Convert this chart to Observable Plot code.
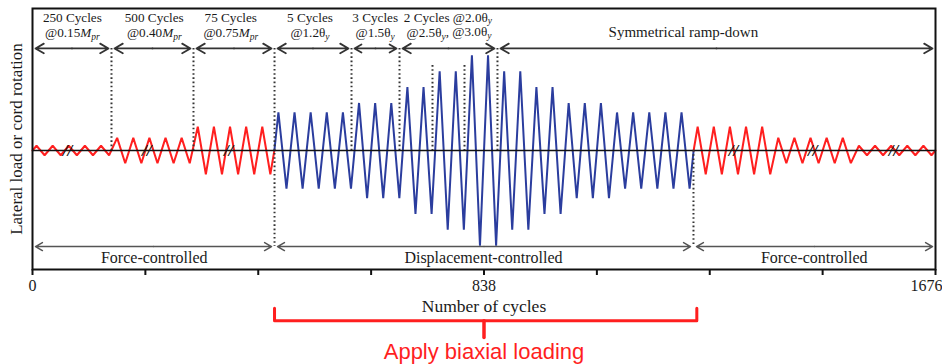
<!DOCTYPE html>
<html><head><meta charset="utf-8">
<script src="https://cdn.jsdelivr.net/npm/d3@7"></script>
<script src="https://cdn.jsdelivr.net/npm/@observablehq/plot@0.6"></script>
<style>
body{margin:0;background:#fff;}
#chart svg g[aria-label="x-axis tick"] path, #chart svg g[aria-label="x-axis"] line {stroke-width:2px;stroke:#111;}
</style></head><body><div id="chart"></div>
<script>
// ---- x axis ----
const xTicks = [0, 209.5, 419, 628.5, 838, 1047.5, 1257, 1466.5, 1676];
const xTickLabels = ["0", "838", "1676"];
const xTickLabelX = [0, 838, 1676];

// ---- schematic loading protocol (drawn cycles per stage, amplitude, control mode) ----
const stageCycles = [5, 5, 5, 5, 3, 2, 2, 2, 2, 2, 3, 5, 5, 5, 5];
const stageAmps   = [0.15, 0.40, 0.75, 1.2, 1.5, 2.0, 2.5, 3.0, 2.5, 2.0, 1.5, 1.2, 0.75, 0.40, 0.15];
const stageMode   = ["force1", "force1", "force1", "disp", "disp", "disp", "disp", "disp", "disp", "disp", "disp", "disp", "force2", "force2", "force2"];
const modeColors  = {force1: "#ff1f1f", disp: "#2b3d9e", force2: "#ff1f1f"};

// ---- break marks on the force-controlled stages ----
const breakX = [65, 212, 364, 1301, 1448, 1598];

// ---- stage boundaries (dotted lines) ----
const dottedX      = [146.6, 298.8, 449.2, 592.1, 681.2, 742.4, 801.8, 863.0, 1226.8];
const dottedTop    = [3.22, 3.22, 3.22, 3.22, 3.22, 2.68, 2.68, 3.22, 0];
const dottedBottom = [0, 0, -3.03, 0, 0, 0, 0, 0, -3.03];

// ---- arrows ----
const topArrowBounds = [0, 146.6, 298.8, 449.2, 592.1, 681.2, 863.0, 1676];
const bottomArrowBounds = [0, 449.2, 1226.8, 1676];

// ---- labels ----
const topRow1 = ["250 Cycles", "500 Cycles", "75 Cycles", "5 Cycles", "3 Cycles", "2 Cycles @2.0θ_y"];
const topRow1X = [74, 226, 368, 515, 636, 771];
const topRow2 = ["@0.15M_pr", "@0.40M_pr", "@0.75M_pr", "@1.2θ_y", "@1.5θ_y", "@2.5θ_y, @3.0θ_y"];
const topRow2X = [74, 226, 368, 515, 636, 773];
const rampLabel = ["Symmetrical ramp-down"];
const rampLabelX = [1208];
const bottomLabels = ["Force-controlled", "Displacement-controlled", "Force-controlled"];
const bottomLabelsX = [226, 837, 1451];

// ---- biaxial loading bracket ----
const bracketX = [449.2, 449.2, 1233, 1233];
const bracketY = [-4.98, -5.37, -5.37, -4.98];
const stemX = [838, 838];
const stemY = [-5.37, -5.9];

// ---- build the triangle wave from the stages ----
const totalCycles = d3.sum(stageCycles);
const W = 1676 / totalCycles;
const wave = [];
let c = 0;
stageCycles.forEach((n, s) => {
  const mode = stageMode[s], a = stageAmps[s];
  if (s === 0 || stageMode[s - 1] !== mode) wave.push({x: c * W, y: 0, mode});
  for (let k = 0; k < n; k++, c++) {
    wave.push({x: (c + 0.25) * W, y: a, mode});
    wave.push({x: (c + 0.75) * W, y: -a, mode});
  }
  if (s === stageCycles.length - 1 || stageMode[s + 1] !== mode) wave.push({x: c * W, y: 0, mode});
});

const dotted = dottedX.map((x, i) => ({x, y1: dottedTop[i], y2: dottedBottom[i]}));
function halves(bounds, y) {
  const out = [];
  for (let i = 0; i < bounds.length - 1; i++) {
    const m = (bounds[i] + bounds[i + 1]) / 2;
    out.push({x1: m, x2: bounds[i], y});
    out.push({x1: m, x2: bounds[i + 1], y});
  }
  return out;
}
const topArrows = halves(topArrowBounds, 3.22);
const bottomArrows = halves(bottomArrowBounds, -3.03);
const bracket = bracketX.map((x, i) => ({x, y: bracketY[i]}));
const stem = stemX.map((x, i) => ({x, y: stemY[i]}));

const serif = "'Liberation Serif', 'Times New Roman', serif";
const ink = "#1a1a1a";

const svg = Plot.plot({
  width: 942,
  height: 364,
  marginLeft: 32,
  marginRight: 7,
  marginTop: 8,
  marginBottom: 95,
  style: {fontFamily: serif, fontSize: "16px", color: "#111", background: "white"},
  x: {domain: [0, 1676], ticks: xTicks, tickFormat: () => "", tickSize: 6, label: null},
  y: {domain: [-3.754, 4.48], axis: null},
  marks: [
    Plot.line(wave, {x: "x", y: "y", z: "mode", stroke: d => modeColors[d.mode], strokeWidth: 2, strokeLinejoin: "miter"}),
    Plot.ruleY([0], {stroke: "#111", strokeWidth: 1.6}),
    Plot.ruleX(dotted, {x: "x", y1: "y1", y2: "y2", stroke: "#333", strokeWidth: 2, strokeDasharray: "1.6,2.6"}),
    Plot.text(breakX, {x: d => d, y: 0, text: () => "//", fontSize: 17, fontStyle: "italic", fontWeight: "bold", fill: "#111"}),
    Plot.arrow(topArrows, {x1: "x1", x2: "x2", y1: "y", y2: "y", stroke: "#333", strokeWidth: 1.8, headLength: 8, insetEnd: 3}),
    Plot.arrow(bottomArrows, {x1: "x1", x2: "x2", y1: "y", y2: "y", stroke: "#555", strokeWidth: 1.5, headLength: 8, insetEnd: 3}),
    Plot.text(topRow1, {x: (d, i) => topRow1X[i], y: 4.2, text: d => d, fontSize: 13.2, fill: ink}),
    Plot.text(topRow2, {x: (d, i) => topRow2X[i], y: 3.72, text: d => d, fontSize: 13.2, fill: ink}),
    Plot.text(rampLabel, {x: (d, i) => rampLabelX[i], y: 3.72, text: d => d, fontSize: 15, fill: ink}),
    Plot.text(bottomLabels, {x: (d, i) => bottomLabelsX[i], y: -3.375, text: d => d, fontSize: 16, fill: ink}),
    Plot.text(xTickLabels, {x: (d, i) => xTickLabelX[i], y: -3.754, dy: 16, text: d => d, fontSize: 16, fill: ink}),
    Plot.text(["Number of cycles"], {x: 838, y: -4.93, text: d => d, fontSize: 17.5, fill: ink}),
    Plot.text(["Lateral load or cord rotation"], {frameAnchor: "left", dx: -16, rotate: -90, textAnchor: "middle", text: d => d, fontSize: 17, fill: ink}),
    Plot.line(bracket, {x: "x", y: "y", stroke: "#ff1f1f", strokeWidth: 3}),
    Plot.line(stem, {x: "x", y: "y", stroke: "#ff1f1f", strokeWidth: 3.5}),
    Plot.text(["Apply biaxial loading"], {x: 838, y: -6.34, text: d => d, fontSize: 22, fill: "#ff1f1f", fontFamily: "'Liberation Sans', Arial, sans-serif"}),
    Plot.frame({stroke: "#111", strokeWidth: 2})
  ]
});

// subscripts / italics: "M_pr" -> italic M with subscript pr, "θ_y" -> θ with subscript y
d3.select(svg).selectAll("text").each(function () {
  const s = this.textContent;
  if (!s.includes("_") || this.querySelector("tspan")) return;
  const parts = s.split(/([A-Za-zθ])_([a-z]+)/);
  const t = d3.select(this);
  t.text(null);
  let shifted = false;
  for (let i = 0; i < parts.length; i += 3) {
    if (parts[i]) {
      const sp = t.append("tspan").text(parts[i]);
      if (shifted) { sp.attr("dy", "-0.3em"); shifted = false; }
    }
    if (i + 1 < parts.length) {
      const base = t.append("tspan").text(parts[i + 1]);
      if (shifted) { base.attr("dy", "-0.3em"); shifted = false; }
      if (parts[i + 1] !== "θ") base.attr("font-style", "italic");
      t.append("tspan").text(parts[i + 2]).attr("dy", "0.3em").attr("font-size", "0.72em").attr("font-style", "italic");
      shifted = true;
    }
  }
});

// keep the right tick label inside the picture, as in the reference
d3.select(svg).selectAll("text").filter(function () { return this.textContent === "1676"; })
  .attr("text-anchor", "end").attr("dx", 7);

document.getElementById("chart").append(svg);
</script>
</body></html>
